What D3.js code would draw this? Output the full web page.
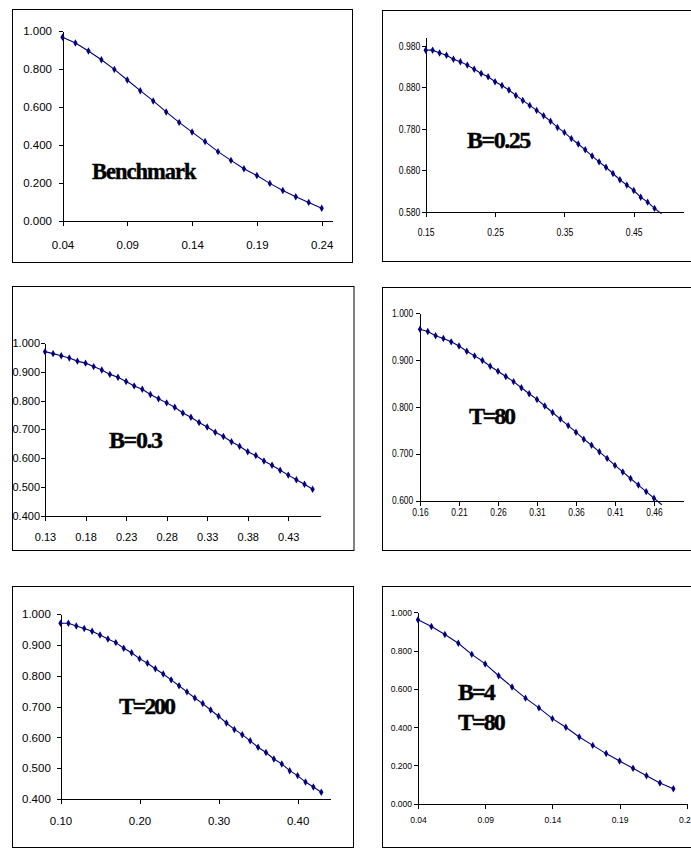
<!DOCTYPE html>
<html lang="en">
<head>
<meta charset="UTF-8">
<title>Six panels</title>
<script src="https://cdnjs.cloudflare.com/ajax/libs/d3/7.8.5/d3.min.js"></script>
<style>
  html, body { margin: 0; padding: 0; background: #fff; }
  svg { display: block; }
  .frame { fill: none; stroke: #000; stroke-width: 1; }
  .axis path, .axis line { stroke: #000; shape-rendering: crispEdges; }
  .axis text { fill: #000; font-family: "Liberation Sans", Arial, sans-serif; }
  .curve { fill: none; stroke: #000080; stroke-width: 1.1; }
  .dot { fill: #000080; }
  .tag { font-family: "Liberation Serif", "Times New Roman", serif; font-weight: bold; fill: #000; stroke: #000; stroke-width: 0.4; }
</style>
</head>
<body>
<svg id="chart" width="691" height="849"></svg>
<script>
// ---- data ----
var benchX = [0.04,0.05,0.06,0.07,0.08,0.09,0.10,0.11,0.12,0.13,0.14,0.15,0.16,0.17,0.18,0.19,0.20,0.21,0.22,0.23,0.24];
var benchY = [0.967,0.937,0.895,0.849,0.798,0.742,0.686,0.632,0.574,0.519,0.468,0.418,0.365,0.319,0.275,0.239,0.198,0.161,0.128,0.098,0.067];
var benchXTicks = [0.04,0.09,0.14,0.19,0.24];
var benchYTicks = [0,0.2,0.4,0.6,0.8,1.0];

var b025X = [0.15,0.16,0.17,0.18,0.19,0.20,0.21,0.22,0.23,0.24,0.25,0.26,0.27,0.28,0.29,0.30,0.31,0.32,0.33,0.34,0.35,0.36,0.37,0.38,0.39,0.40,0.41,0.42,0.43,0.44,0.45,0.46,0.47,0.48,0.49];
var b025Y = [0.969,0.969,0.962,0.957,0.947,0.941,0.933,0.923,0.913,0.905,0.893,0.884,0.873,0.860,0.848,0.836,0.824,0.811,0.798,0.783,0.771,0.756,0.743,0.729,0.714,0.700,0.687,0.672,0.657,0.644,0.631,0.615,0.603,0.588,0.575];
var b025XTicks = [0.15,0.25,0.35,0.45];
var b025YTicks = [0.58,0.68,0.78,0.88,0.98];

var b03X = [0.13,0.14,0.15,0.16,0.17,0.18,0.19,0.20,0.21,0.22,0.23,0.24,0.25,0.26,0.27,0.28,0.29,0.30,0.31,0.32,0.33,0.34,0.35,0.36,0.37,0.38,0.39,0.40,0.41,0.42,0.43,0.44,0.45,0.46];
var b03Y = [0.970,0.963,0.956,0.948,0.937,0.930,0.918,0.906,0.891,0.881,0.866,0.851,0.839,0.821,0.806,0.792,0.777,0.757,0.742,0.724,0.708,0.690,0.675,0.657,0.641,0.622,0.609,0.590,0.575,0.558,0.541,0.525,0.509,0.492];
var b03XTicks = [0.13,0.18,0.23,0.28,0.33,0.38,0.43];
var b03YTicks = [0.4,0.5,0.6,0.7,0.8,0.9,1.0];

var t80X = [0.16,0.17,0.18,0.19,0.20,0.21,0.22,0.23,0.24,0.25,0.26,0.27,0.28,0.29,0.30,0.31,0.32,0.33,0.34,0.35,0.36,0.37,0.38,0.39,0.40,0.41,0.42,0.43,0.44,0.45,0.46,0.47];
var t80Y = [0.966,0.961,0.952,0.946,0.939,0.930,0.919,0.909,0.899,0.887,0.876,0.865,0.854,0.841,0.828,0.816,0.802,0.788,0.774,0.760,0.746,0.731,0.718,0.704,0.690,0.675,0.661,0.647,0.633,0.619,0.605,0.591];
var t80XTicks = [0.16,0.21,0.26,0.31,0.36,0.41,0.46];
var t80YTicks = [0.6,0.7,0.8,0.9,1.0];

var t200X = [0.10,0.11,0.12,0.13,0.14,0.15,0.16,0.17,0.18,0.19,0.20,0.21,0.22,0.23,0.24,0.25,0.26,0.27,0.28,0.29,0.30,0.31,0.32,0.33,0.34,0.35,0.36,0.37,0.38,0.39,0.40,0.41,0.42,0.43];
var t200Y = [0.971,0.971,0.962,0.954,0.945,0.933,0.920,0.908,0.890,0.875,0.856,0.841,0.823,0.806,0.787,0.768,0.748,0.728,0.710,0.689,0.669,0.647,0.626,0.609,0.589,0.568,0.551,0.530,0.514,0.492,0.476,0.455,0.439,0.422];
var t200XTicks = [0.10,0.20,0.30,0.40];
var t200YTicks = [0.4,0.5,0.6,0.7,0.8,0.9,1.0];

var b4X = [0.04,0.05,0.06,0.07,0.08,0.09,0.10,0.11,0.12,0.13,0.14,0.15,0.16,0.17,0.18,0.19,0.20,0.21,0.22,0.23];
var b4Y = [0.961,0.926,0.884,0.838,0.780,0.730,0.668,0.609,0.551,0.500,0.444,0.399,0.348,0.304,0.261,0.222,0.184,0.145,0.107,0.077];
var b4XTicks = [0.04,0.09,0.14,0.19,0.24];
var b4YTicks = [0,0.2,0.4,0.6,0.8,1.0];

// ---- layout of each panel ----
var panels = [
  { xs: benchX, ys: benchY, xt: benchXTicks, yt: benchYTicks, xf: ".2f",
    box: [12.5, 9.5, 340, 253], left: 62.5, right: 332.7, top: 31, bottom: 221,
    xd: [0.04, 0.2485], yd: [0, 1], font: 11.5, k: 1, yPad: 6.5, xPad: 15,
    tag: ["Benchmark"], tagX: 92, tagY: 179, tagSize: 22.5, tagLs: -1 },
  { xs: b025X, ys: b025Y, xt: b025XTicks, yt: b025YTicks, xf: ".2f",
    box: [382.5, 10.5, 330, 251], left: 425.7, right: 683, top: 37.3, bottom: 211.7,
    xd: [0.15, 0.521], yd: [0.58, 1.0], font: 11.5, k: 0.75, yPad: 1.3, xPad: 11,
    tag: ["B=0.25"], tagX: 467, tagY: 148, tagSize: 24, tagLs: -1.5 },
  { xs: b03X, ys: b03Y, xt: b03XTicks, yt: b03YTicks, xf: ".2f",
    box: [12.5, 286.5, 341.5, 264], left: 45, right: 320.7, top: 343, bottom: 515.7,
    xd: [0.13, 0.47], yd: [0.4, 1.0], font: 11, k: 1, yPad: 1, xPad: 12.5,
    tag: ["B=0.3"], tagX: 109, tagY: 448, tagSize: 24, tagLs: -1.4 },
  { xs: t80X, ys: t80Y, xt: t80XTicks, yt: t80YTicks, xf: ".2f",
    box: [382.5, 287.5, 330, 263], left: 420, right: 683.3, top: 313.3, bottom: 500.5,
    xd: [0.16, 0.4976], yd: [0.6, 1.0], font: 10, k: 0.85, yPad: 2.7, xPad: 3,
    tag: ["T=80"], tagX: 469, tagY: 424, tagSize: 24, tagLs: -2.2 },
  { xs: t200X, ys: t200Y, xt: t200XTicks, yt: t200YTicks, xf: ".2f",
    box: [12.5, 586.5, 341, 261], left: 60.5, right: 330, top: 614.3, bottom: 799,
    xd: [0.10, 0.441], yd: [0.4, 1.0], font: 11.5, k: 1, yPad: 5.7, xPad: 12.7,
    tag: ["T=200"], tagX: 119, tagY: 714, tagSize: 24, tagLs: -2.2 },
  { xs: b4X, ys: b4Y, xt: b4XTicks, yt: b4YTicks, xf: ".2f",
    box: [382.5, 586.5, 330, 261], left: 418, right: 686.8, top: 612.3, bottom: 803.5,
    xd: [0.04, 0.24], yd: [0, 1], font: 9.5, k: 0.9, yPad: 2, xPad: 8,
    tag: ["B=4", "T=80"], tagX: 458, tagY: 700, tagSize: 24, tagLs: -2 }
];

var svg = d3.select("#chart");

// narrow the tick labels horizontally (the original uses a condensed face)
function squeeze(g, k, side) {
  if (k === 1) return;
  g.selectAll("text").each(function () {
    var t = d3.select(this);
    if (side === "left") t.attr("x", +t.attr("x") / k);
    t.attr("transform", "scale(" + k + ",1)");
  });
}

panels.forEach(function (p) {
  var g = svg.append("g");

  g.append("rect").attr("class", "frame")
    .attr("x", p.box[0]).attr("y", p.box[1])
    .attr("width", p.box[2]).attr("height", p.box[3]);

  var x = d3.scaleLinear().domain(p.xd).range([p.left, p.right]);
  var y = d3.scaleLinear().domain(p.yd).range([p.bottom, p.top]);

  var ya = g.append("g").attr("class", "axis")
    .attr("transform", "translate(" + p.left + ",0)")
    .call(d3.axisLeft(y).tickValues(p.yt).tickFormat(d3.format(".3f"))
      .tickSize(4).tickSizeOuter(0).tickPadding(p.yPad));
  ya.selectAll("text").attr("font-size", p.font);
  squeeze(ya, p.k, "left");

  var xa = g.append("g").attr("class", "axis")
    .attr("transform", "translate(0," + p.bottom + ")")
    .call(d3.axisBottom(x).tickValues(p.xt).tickFormat(d3.format(p.xf))
      .tickSize(5).tickSizeOuter(0).tickPadding(p.xPad));
  xa.selectAll("text").attr("font-size", p.font);
  squeeze(xa, p.k, "bottom");

  var pts = p.xs.map(function (v, i) { return [v, p.ys[i]]; });

  g.append("path").attr("class", "curve")
    .attr("d", d3.line().x(function (d) { return x(d[0]); }).y(function (d) { return y(d[1]); })(pts));

  g.selectAll(".dot")
    .data(pts.filter(function (d) { return d[1] >= p.yd[0]; }))
    .enter().append("path").attr("class", "dot")
    .attr("transform", function (d) { return "translate(" + x(d[0]) + "," + y(d[1]) + ")"; })
    .attr("d", d3.symbol().type(d3.symbolDiamond).size(16));

  p.tag.forEach(function (s, i) {
    g.append("text").attr("class", "tag")
      .attr("x", p.tagX).attr("y", p.tagY + i * 30)
      .attr("font-size", p.tagSize)
      .attr("letter-spacing", p.tagLs)
      .text(s);
  });
});
</script>
</body>
</html>
